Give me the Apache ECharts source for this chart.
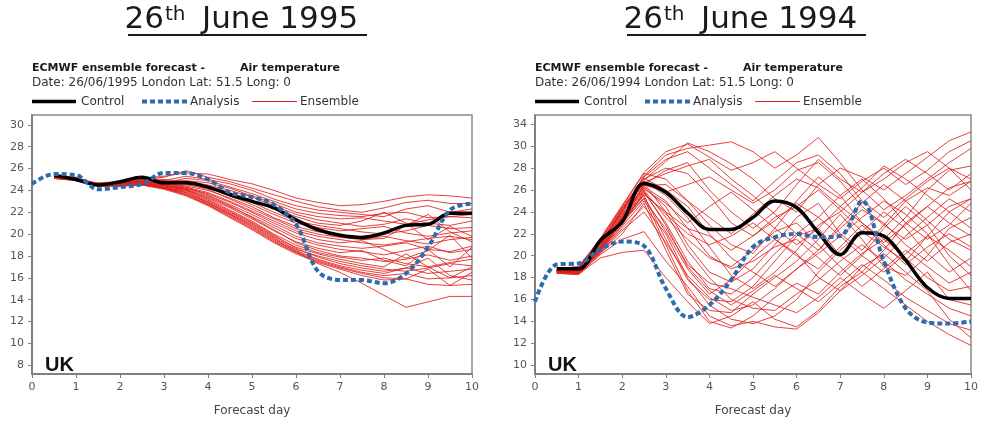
<!DOCTYPE html>
<html>
<head>
<meta charset="utf-8">
<script src="https://cdn.jsdelivr.net/npm/echarts@6/dist/echarts.min.js"></script>
<style>
  html, body { margin: 0; padding: 0; background: #fff; }
  #chart { width: 981px; height: 422px; }
</style>
</head>
<body>
<div id="chart"></div>
<script>
// forecast steps (12 h), analysis starts at day 0, forecasts at day 0.5
const anaDays = [0, 0.5, 1, 1.5, 2, 2.5, 3, 3.5, 4, 4.5, 5, 5.5, 6, 6.5, 7, 7.5, 8, 8.5, 9, 9.5, 10]
const fcDays = anaDays.slice(1)

// ---- 26 June 1995 ----
const yTicks1995 = [8, 10, 12, 14, 16, 18, 20, 22, 24, 26, 28, 30]
const analysis1995 = [24.6, 25.5, 25.4, 24.1, 24.3, 24.6, 25.6, 25.6, 25.0, 23.8, 23.4, 22.7, 20.9, 16.6, 15.8, 15.8, 15.5, 16.4, 18.8, 22.2, 22.8]
const control1995 = [25.4, 25.0, 24.5, 24.8, 25.2, 24.7, 24.7, 24.3, 23.6, 23.0, 22.4, 21.3, 20.4, 19.9, 19.7, 20.1, 20.8, 20.9, 21.9, 21.9]
const ensemble1995 = [
  [25.2, 25.0, 24.6, 24.7, 25.1, 25.3, 25.6, 25.5, 25.0, 24.6, 24.0, 23.3, 22.9, 22.6, 22.7, 23.0, 23.4, 23.6, 23.5, 23.3],
  [25.3, 25.1, 24.5, 24.6, 25.0, 25.2, 25.8, 25.2, 24.8, 24.2, 23.6, 23.0, 22.5, 22.2, 22.0, 22.4, 22.9, 23.1, 22.8, 22.8],
  [25.1, 24.9, 24.4, 24.5, 24.9, 24.9, 25.3, 25.0, 24.6, 24.0, 23.2, 22.6, 22.2, 22.0, 21.8, 21.6, 22.3, 22.6, 22.0, 22.3],
  [25.4, 25.2, 24.6, 24.5, 24.8, 24.7, 25.1, 24.9, 24.3, 23.7, 23.0, 22.3, 21.9, 21.7, 21.6, 21.9, 22.0, 21.5, 21.6, 21.8],
  [25.2, 25.0, 24.5, 24.6, 24.9, 24.8, 24.9, 24.7, 24.2, 23.5, 22.8, 22.0, 21.6, 21.4, 21.5, 21.2, 20.9, 21.3, 21.6, 21.5],
  [25.3, 24.9, 24.7, 24.8, 25.1, 25.0, 24.8, 24.5, 24.0, 23.4, 22.6, 21.8, 21.3, 21.0, 20.7, 20.9, 21.4, 21.0, 20.8, 21.2],
  [25.2, 25.1, 24.4, 24.5, 24.7, 24.6, 24.6, 24.4, 23.8, 23.1, 22.3, 21.6, 21.0, 20.8, 21.2, 22.0, 21.0, 19.5, 20.7, 19.8],
  [25.1, 25.0, 24.6, 24.7, 25.0, 24.9, 24.7, 24.3, 23.6, 22.9, 22.0, 21.2, 20.8, 20.5, 20.2, 20.0, 20.3, 20.8, 20.5, 20.6],
  [25.3, 25.2, 24.5, 24.4, 24.6, 24.5, 24.5, 24.2, 23.5, 22.7, 21.8, 21.0, 20.6, 20.3, 20.5, 20.7, 20.1, 19.8, 20.1, 20.3],
  [25.2, 24.9, 24.5, 24.6, 24.8, 24.6, 24.4, 24.0, 23.3, 22.5, 21.5, 20.7, 20.2, 20.0, 19.5, 19.6, 20.8, 21.8, 20.2, 19.3],
  [25.4, 25.1, 24.6, 24.7, 24.9, 24.7, 24.6, 24.1, 23.2, 22.3, 21.4, 20.5, 20.0, 19.7, 19.5, 19.8, 19.4, 19.1, 19.5, 19.7],
  [25.2, 25.0, 24.4, 24.5, 24.7, 24.4, 24.3, 23.8, 23.0, 22.1, 21.2, 20.3, 19.8, 19.5, 19.2, 19.0, 19.3, 19.6, 19.8, 19.5],
  [25.3, 25.0, 24.5, 24.6, 24.8, 24.5, 24.2, 23.7, 22.9, 22.0, 21.0, 20.1, 19.5, 19.2, 19.4, 18.6, 17.8, 18.5, 19.9, 17.8],
  [25.1, 24.9, 24.6, 24.7, 24.9, 24.6, 24.3, 23.6, 22.7, 21.8, 20.8, 19.8, 19.2, 18.9, 18.7, 18.9, 19.2, 18.6, 18.4, 18.9],
  [25.2, 25.1, 24.5, 24.5, 24.6, 24.3, 24.1, 23.4, 22.5, 21.6, 20.6, 19.6, 19.0, 18.6, 18.4, 18.1, 18.5, 18.9, 18.3, 18.6],
  [25.3, 25.0, 24.4, 24.4, 24.5, 24.2, 24.0, 23.3, 22.4, 21.4, 20.3, 19.3, 18.7, 18.3, 18.5, 17.6, 17.1, 18.6, 17.0, 18.8],
  [25.2, 24.9, 24.5, 24.6, 24.7, 24.4, 24.2, 23.5, 22.6, 21.5, 20.4, 19.2, 18.5, 18.0, 17.8, 17.5, 17.7, 18.1, 17.6, 18.0],
  [25.4, 25.1, 24.6, 24.6, 24.8, 24.5, 24.1, 23.2, 22.2, 21.2, 20.0, 19.0, 18.3, 17.9, 17.6, 17.8, 17.3, 17.0, 17.4, 17.7],
  [25.1, 25.0, 24.5, 24.5, 24.6, 24.3, 23.9, 23.0, 22.0, 21.0, 19.8, 18.8, 18.2, 17.7, 17.3, 17.0, 18.2, 17.0, 16.0, 17.0],
  [25.2, 25.0, 24.4, 24.4, 24.5, 24.2, 23.8, 22.9, 21.9, 20.9, 19.7, 18.6, 18.0, 17.5, 17.1, 16.8, 16.6, 16.9, 17.3, 17.1],
  [25.3, 24.9, 24.6, 24.7, 24.8, 24.4, 24.0, 23.1, 22.1, 21.1, 19.9, 18.7, 17.9, 17.3, 16.9, 16.6, 16.9, 16.4, 16.6, 16.8],
  [25.2, 25.1, 24.5, 24.5, 24.6, 24.2, 23.7, 22.8, 21.8, 20.8, 19.6, 18.5, 17.7, 17.1, 16.7, 16.4, 16.9, 17.8, 16.2, 15.8],
  [25.3, 25.0, 24.4, 24.5, 24.7, 24.3, 23.8, 22.9, 21.8, 20.7, 19.5, 18.4, 17.6, 17.0, 16.5, 16.2, 16.4, 15.9, 16.0, 16.2],
  [25.1, 25.0, 24.5, 24.6, 24.6, 24.2, 23.6, 22.7, 21.6, 20.5, 19.3, 18.3, 17.5, 16.9, 16.4, 16.0, 15.9, 16.8, 15.3, 16.5],
  [25.2, 24.9, 24.5, 24.5, 24.5, 24.1, 23.5, 22.6, 21.5, 20.4, 19.2, 18.2, 17.4, 16.8, 16.2, 15.8, 15.9, 15.4, 15.3, 15.4],
  [25.3, 25.0, 24.4, 24.4, 24.6, 24.2, 23.6, 22.7, 21.7, 20.6, 19.4, 18.4, 17.3, 16.5, 15.5, 14.4, 13.3, 13.8, 14.3, 14.3]
]

// ---- 26 June 1994 ----  (top tick is printed "34" in the original)
const yTicks1994 = [10, 12, 14, 16, 18, 20, 22, 24, 26, 28, 30, 32]
const yLabels1994 = ['10', '12', '14', '16', '18', '20', '22', '24', '26', '28', '30', '34']
const analysis1994 = [15.8, 19.2, 19.3, 20.6, 21.3, 20.9, 17.0, 14.4, 15.5, 17.8, 20.8, 21.7, 22.0, 21.7, 21.8, 25.0, 19.5, 15.2, 13.9, 13.8, 14.0]
const control1994 = [18.8, 18.8, 21.4, 23.1, 26.6, 25.8, 23.9, 22.4, 22.4, 23.5, 25.0, 24.4, 22.1, 20.1, 22.1, 21.8, 19.6, 17.1, 16.1, 16.1]
const ensemble1994 = [
  [18.6, 18.5, 20.8, 23.5, 26.9, 28.6, 30.3, 29.5, 28.4, 27.0, 25.2, 24.0, 26.5, 28.0, 27.2, 26.0, 27.5, 29.0, 30.5, 31.3],
  [18.7, 18.9, 21.2, 24.0, 27.3, 29.2, 29.8, 30.1, 30.4, 29.5, 28.0, 29.2, 30.8, 28.5, 26.0, 24.2, 25.5, 27.0, 28.5, 29.8],
  [18.5, 18.4, 20.5, 23.0, 26.5, 27.8, 28.5, 26.0, 24.0, 22.5, 24.0, 26.5, 28.8, 27.0, 25.8, 27.5, 28.8, 27.5, 26.0, 27.5],
  [18.8, 19.0, 21.5, 24.5, 27.5, 27.0, 25.0, 22.8, 21.0, 20.2, 22.5, 25.0, 27.2, 25.5, 23.0, 21.5, 23.5, 26.0, 27.8, 28.2],
  [18.6, 18.7, 20.9, 23.8, 26.2, 24.5, 21.0, 18.5, 17.6, 18.8, 21.0, 23.5, 24.8, 22.0, 20.5, 22.8, 25.0, 26.2, 25.5, 26.8],
  [18.5, 18.6, 20.4, 22.8, 25.8, 23.0, 19.5, 17.0, 16.5, 18.0, 20.2, 22.0, 23.5, 25.5, 27.0, 25.2, 23.0, 21.5, 22.8, 24.8],
  [18.7, 18.8, 21.0, 24.2, 26.8, 25.5, 23.5, 20.8, 18.2, 17.0, 18.5, 20.5, 22.8, 24.0, 25.8, 27.0, 28.5, 29.5, 28.0, 26.0],
  [18.6, 18.5, 20.6, 23.2, 25.5, 21.5, 17.8, 16.0, 15.8, 17.2, 19.5, 21.8, 22.5, 20.0, 18.5, 20.5, 23.0, 24.5, 23.0, 21.8],
  [18.4, 18.3, 20.2, 22.0, 24.8, 20.5, 16.5, 15.0, 14.8, 16.5, 18.0, 19.5, 21.5, 23.8, 21.5, 19.0, 18.2, 20.0, 22.5, 23.5],
  [18.8, 18.9, 21.3, 24.3, 27.0, 28.0, 27.5, 25.5, 23.0, 21.8, 23.5, 24.5, 26.0, 24.2, 22.2, 20.8, 19.5, 21.8, 24.0, 22.5],
  [18.6, 18.6, 20.7, 23.4, 26.4, 26.5, 25.0, 23.5, 22.0, 23.8, 25.5, 27.0, 26.2, 24.5, 26.2, 28.2, 27.0, 25.5, 24.0, 25.2],
  [18.5, 18.4, 20.3, 22.5, 24.5, 22.0, 18.0, 15.5, 14.2, 13.8, 14.5, 16.0, 18.5, 20.5, 22.2, 24.0, 22.5, 20.2, 18.5, 19.8],
  [18.7, 18.8, 21.1, 24.1, 26.6, 24.0, 20.5, 18.0, 16.0, 15.2, 15.0, 16.5, 17.8, 19.5, 21.0, 19.5, 17.8, 16.5, 15.2, 14.5],
  [18.6, 18.7, 20.8, 23.6, 26.0, 23.5, 21.5, 19.8, 19.0, 20.5, 22.2, 23.0, 21.0, 19.0, 17.2, 18.8, 20.5, 19.0, 17.5, 18.5],
  [18.5, 18.5, 20.5, 23.0, 25.2, 21.0, 16.8, 14.0, 13.4, 14.5, 16.2, 17.5, 16.5, 18.5, 20.2, 21.5, 19.8, 18.0, 16.8, 17.2],
  [18.8, 18.9, 21.4, 24.4, 27.1, 26.0, 24.5, 22.0, 19.8, 18.5, 17.2, 18.8, 20.5, 22.5, 24.2, 23.0, 21.0, 19.5, 21.2, 22.0],
  [18.6, 18.6, 20.6, 23.3, 25.9, 22.8, 19.0, 16.8, 15.5, 16.8, 18.2, 17.0, 15.8, 17.5, 19.2, 17.8, 16.2, 15.0, 13.8, 13.2],
  [18.4, 18.3, 20.1, 21.5, 22.2, 19.5, 17.2, 14.5, 13.6, 14.0, 13.5, 13.3, 14.8, 16.8, 19.0, 20.2, 18.5, 16.8, 14.2, 12.5],
  [18.7, 18.7, 21.0, 24.0, 26.7, 27.5, 28.2, 28.8, 27.0, 25.5, 23.8, 22.0, 20.5, 22.8, 24.8, 26.5, 25.0, 23.2, 21.5, 20.5],
  [18.6, 18.8, 20.9, 23.7, 26.3, 25.0, 22.5, 20.0, 18.8, 19.5, 20.8, 21.5, 19.8, 18.2, 20.0, 22.5, 24.5, 22.8, 20.0, 18.2],
  [18.5, 18.4, 20.4, 22.7, 25.0, 22.5, 19.2, 17.5, 17.0, 16.2, 15.5, 14.8, 16.2, 18.0, 16.5, 15.2, 16.8, 18.5, 16.0, 15.5],
  [18.7, 18.9, 21.2, 24.2, 27.2, 28.8, 29.5, 28.0, 26.5, 25.0, 26.8, 28.5, 29.2, 27.5, 25.0, 23.5, 25.2, 26.8, 28.0, 27.0],
  [18.6, 18.5, 20.7, 23.3, 25.7, 23.8, 22.0, 21.0, 21.8, 23.0, 21.5, 20.0, 18.8, 20.8, 22.8, 21.0, 19.2, 20.8, 22.0, 20.8],
  [18.5, 18.6, 20.5, 23.1, 25.3, 22.2, 18.8, 16.5, 17.8, 19.8, 21.5, 20.2, 18.0, 16.8, 18.2, 19.8, 21.8, 23.5, 25.2, 24.0],
  [18.8, 19.0, 21.6, 24.6, 27.6, 29.5, 30.2, 29.0, 27.8, 28.5, 29.5, 28.0, 26.5, 25.2, 26.8, 28.0, 26.5, 27.8, 29.5, 30.5],
  [18.6, 18.7, 20.8, 23.5, 26.1, 24.8, 23.0, 24.5, 25.8, 24.2, 22.5, 21.0, 22.5, 24.5, 23.0, 21.2, 22.8, 24.5, 26.2, 26.8],
  [18.4, 18.3, 19.8, 20.3, 20.5, 18.0, 15.8, 13.8, 14.5, 15.8, 14.2, 13.5, 15.0, 17.2, 18.5, 17.0, 15.5, 14.0, 12.8, 11.8],
  [18.7, 18.8, 21.1, 23.9, 26.5, 25.8, 26.5, 27.2, 26.0, 24.8, 26.0, 27.8, 28.5, 26.8, 24.5, 22.8, 21.5, 22.8, 24.5, 25.2],
  [18.6, 18.6, 20.6, 23.2, 25.6, 24.0, 22.5, 21.8, 20.5, 21.8, 23.2, 24.8, 23.5, 21.8, 20.0, 18.5, 20.2, 21.8, 20.5, 19.0],
  [18.5, 18.5, 20.3, 22.3, 24.0, 21.2, 18.2, 16.2, 15.0, 15.5, 17.0, 18.8, 20.2, 21.8, 23.5, 25.0, 23.8, 22.0, 19.2, 16.8]
]

const FONT = 'DejaVu Sans'
const RED = '#e0201c'
const BLUE = '#2b6cad'
const AXIS_GREY = '#808080'

let chart = echarts.init(document.getElementById('chart'))

function xAxisFor(idx) {
  return {
    type: 'value',
    gridIndex: idx,
    min: 0,
    max: 10,
    interval: 1,
    name: 'Forecast day',
    nameLocation: 'middle',
    nameGap: 31,
    nameTextStyle: { fontFamily: FONT, fontSize: 12, color: '#444' },
    axisLine: { show: true, onZero: false, lineStyle: { color: AXIS_GREY, width: 2 } },
    axisTick: { show: true, length: 4, lineStyle: { color: AXIS_GREY } },
    axisLabel: { fontFamily: FONT, fontSize: 11, color: '#555', margin: 8 },
    splitLine: { show: false },
  }
}

function yAxisFor(idx, min, max, ticks, labels) {
  return {
    type: 'value',
    gridIndex: idx,
    min: min,
    max: max,
    axisLine: { show: true, onZero: false, lineStyle: { color: AXIS_GREY, width: 2 } },
    axisTick: { show: true, length: 4, customValues: ticks, lineStyle: { color: AXIS_GREY } },
    axisLabel: {
      fontFamily: FONT,
      fontSize: 11,
      color: '#555',
      margin: 8,
      customValues: ticks,
      formatter: function (v) {
        let i = ticks.indexOf(v)
        return i >= 0 ? labels[i] : ''
      },
    },
    splitLine: { show: false },
  }
}

function panelSeries(idx, ensemble, control, analysis) {
  let list = ensemble.map((m) => ({
    type: 'line',
    xAxisIndex: idx,
    yAxisIndex: idx,
    symbol: 'none',
    silent: true,
    z: 2,
    lineStyle: { color: RED, width: 1, opacity: 0.85 },
    data: m.map((v, i) => [fcDays[i], v]),
  }))
  list.push({
    type: 'line',
    xAxisIndex: idx,
    yAxisIndex: idx,
    symbol: 'none',
    smooth: 0.35,
    z: 3,
    lineStyle: { color: '#000', width: 3.5 },
    data: control.map((v, i) => [fcDays[i], v]),
  })
  list.push({
    type: 'line',
    xAxisIndex: idx,
    yAxisIndex: idx,
    symbol: 'none',
    smooth: 0.35,
    z: 4,
    lineStyle: { color: BLUE, width: 4, type: [5, 3] },
    data: analysis.map((v, i) => [anaDays[i], v]),
  })
  return list
}

// headings, legend and UK label for one panel (x0 = left edge of plot, tx = left of title)
function panelGraphics(x0, tx, year, date) {
  let t = { fontFamily: FONT, fill: '#1a1a1a' }
  return [
    { type: 'text', x: tx + 36, y: 20, style: { ...t, text: '26', fontSize: 31, align: 'right', verticalAlign: 'middle' } },
    { type: 'text', x: tx + 37, y: 15, style: { ...t, text: 'th', fontSize: 20, align: 'left', verticalAlign: 'middle' } },
    { type: 'text', x: tx + 74, y: 20, style: { ...t, text: 'June ' + year, fontSize: 31, align: 'left', verticalAlign: 'middle' } },
    { type: 'line', shape: { x1: tx, y1: 35, x2: tx + 239, y2: 35 }, style: { stroke: '#1a1a1a', lineWidth: 2 } },

    { type: 'text', x: x0, y: 68, style: { ...t, text: 'ECMWF ensemble forecast -', fontSize: 11, fontWeight: 'bold', verticalAlign: 'middle' } },
    { type: 'text', x: x0 + 208, y: 68, style: { ...t, text: 'Air temperature', fontSize: 11, fontWeight: 'bold', verticalAlign: 'middle' } },
    { type: 'text', x: x0, y: 83, style: { ...t, fill: '#333', text: 'Date: ' + date + ' London Lat: 51.5 Long: 0', fontSize: 12, verticalAlign: 'middle' } },

    { type: 'line', shape: { x1: x0, y1: 101.5, x2: x0 + 44, y2: 101.5 }, style: { stroke: '#000', lineWidth: 3.5 } },
    { type: 'text', x: x0 + 49, y: 102, style: { ...t, fill: '#333', text: 'Control', fontSize: 12, verticalAlign: 'middle' } },
    { type: 'line', shape: { x1: x0 + 110, y1: 101.5, x2: x0 + 156, y2: 101.5 }, style: { stroke: BLUE, lineWidth: 4, lineDash: [5, 3] } },
    { type: 'text', x: x0 + 158, y: 102, style: { ...t, fill: '#333', text: 'Analysis', fontSize: 12, verticalAlign: 'middle' } },
    { type: 'line', shape: { x1: x0 + 220, y1: 101.5, x2: x0 + 265, y2: 101.5 }, style: { stroke: RED, lineWidth: 1 } },
    { type: 'text', x: x0 + 268, y: 102, style: { ...t, fill: '#333', text: 'Ensemble', fontSize: 12, verticalAlign: 'middle' } },

    { type: 'text', x: x0 + 13, y: 365, z: 10, style: { fill: '#111', fontFamily: 'Liberation Sans', text: 'UK', fontSize: 20, fontWeight: 'bold', verticalAlign: 'middle' } },
  ]
}

let option = {
  animation: false,
  backgroundColor: '#fff',
  grid: [
    { left: 32, top: 115, width: 440, height: 267, show: true, borderColor: '#8a8a8a', borderWidth: 1.5 },
    { left: 535, top: 115, width: 438, height: 267, show: true, borderColor: '#8a8a8a', borderWidth: 1.5 },
  ],
  xAxis: [xAxisFor(0), xAxisFor(1)],
  yAxis: [
    yAxisFor(0, 7.2, 30.9, yTicks1995, yTicks1995.map(String)),
    yAxisFor(1, 9.2, 32.85, yTicks1994, yLabels1994),
  ],
  series: [
    ...panelSeries(0, ensemble1995, control1995, analysis1995),
    ...panelSeries(1, ensemble1994, control1994, analysis1994),
  ],
  graphic: [
    ...panelGraphics(32, 128, '1995', '26/06/1995'),
    ...panelGraphics(535, 627, '1994', '26/06/1994'),
  ],
}

chart.setOption(option)
</script>
</body>
</html>
